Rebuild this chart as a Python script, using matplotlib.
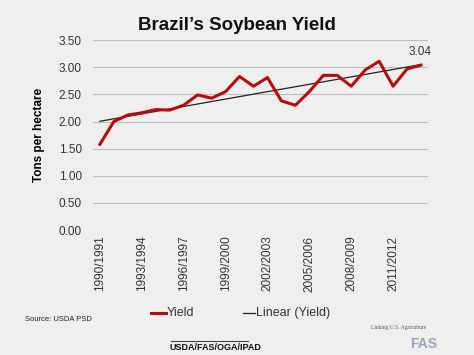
import numpy as np
from matplotlib import pyplot as plt

plt.rcParams["font.family"] = ["Liberation Sans", "DejaVu Sans"]

# Data
years = [f"{y}/{y + 1}" for y in range(1990, 2014)]
yield_tpha = [1.58, 2.00, 2.12, 2.16, 2.22, 2.21, 2.30, 2.49, 2.43, 2.55,
              2.83, 2.65, 2.81, 2.38, 2.30, 2.55, 2.85, 2.85, 2.65, 2.95,
              3.11, 2.65, 2.97, 3.04]
y_ticks = [0.0, 0.5, 1.0, 1.5, 2.0, 2.5, 3.0, 3.5]

x = np.arange(len(years))

# Linear trend, like the Excel trendline
slope, intercept = np.polyfit(x, yield_tpha, 1)
trend = slope * x + intercept

fig = plt.figure(figsize=(4.74, 3.55), dpi=100)
fig.patch.set_facecolor("#efefef")

ax = fig.add_axes([0.196, 0.352, 0.707, 0.535])
ax.set_facecolor("none")

ax.plot(x, trend, color="#222222", lw=0.9, zorder=2)
ax.plot(x, yield_tpha, color="#b80c0c", lw=2.2, zorder=3)
ax.annotate(f"{yield_tpha[-1]:.2f}", (x[-1], yield_tpha[-1]), xytext=(-1, 5),
            textcoords="offset points", ha="center", va="bottom", fontsize=8.5,
            color="#333333")

ax.set_xlim(-0.5, len(years) - 0.5)
ax.set_ylim(0, 3.5)
ax.set_yticks(y_ticks)
ax.set_yticklabels([f"{v:.2f}" for v in y_ticks], fontsize=8.5, color="#333333")
ax.yaxis.grid(True, color="#bdbdbd", lw=0.8)
ax.set_axisbelow(True)
ax.tick_params(axis="y", length=0, pad=8)

ax.set_xticks(x[::3])
ax.set_xticklabels(years[::3], rotation=90, fontsize=8.5, color="#333333")
ax.tick_params(axis="x", length=0, pad=4)
for s in ax.spines.values():
    s.set_visible(False)

ax.set_ylabel("Tons per hectare", fontsize=8.5, fontweight="bold", labelpad=10)

fig.text(0.5, 0.928, "Brazil\u2019s Soybean Yield", ha="center", va="center",
         fontsize=13.5, fontweight="bold", color="#111111")

# Legend drawn by hand to match the reference spacing
fig.lines.append(plt.Line2D([0.318, 0.350], [0.117, 0.117], transform=fig.transFigure,
                            color="#b80c0c", lw=2.2))
fig.text(0.352, 0.117, "Yield", va="center", fontsize=9, color="#333333")
fig.lines.append(plt.Line2D([0.512, 0.538], [0.117, 0.117], transform=fig.transFigure,
                            color="#222222", lw=0.9))
fig.text(0.540, 0.117, "Linear (Yield)", va="center", fontsize=9, color="#333333")

fig.text(0.053, 0.099, "Source: USDA PSD", fontsize=5.5, color="#222222", va="center")
fig.lines.append(plt.Line2D([0.360, 0.523], [0.040, 0.040], transform=fig.transFigure,
                            color="#444444", lw=0.8))
fig.text(0.455, 0.020, "USDA/FAS/OGA/IPAD", fontsize=6.5, fontweight="bold",
         ha="center", va="center", color="#111111")
fig.text(0.782, 0.078, "Linking U.S. Agriculture", fontsize=4, color="#555555",
         va="center", family="Liberation Serif")
fig.text(0.865, 0.030, "FAS", fontsize=10, fontweight="bold", color="#9aa6bb",
         va="center")

fig.savefig("out.png", dpi=100, facecolor=fig.get_facecolor())
